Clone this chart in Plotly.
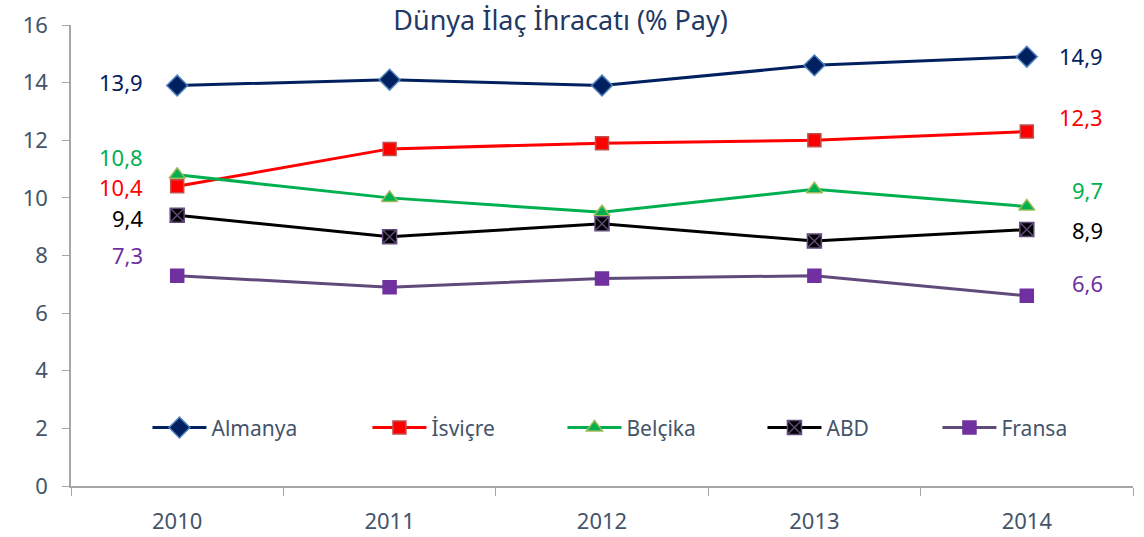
import plotly.graph_objects as go

years = ["2010", "2011", "2012", "2013", "2014"]
almanya = [13.9, 14.1, 13.9, 14.6, 14.9]
isvicre = [10.4, 11.7, 11.9, 12.0, 12.3]
belcika = [10.8, 10.0, 9.5, 10.3, 9.7]
abd = [9.4, 8.65, 9.1, 8.5, 8.9]
fransa = [7.3, 6.9, 7.2, 7.3, 6.6]

series = [
    ("Almanya", almanya, "#002060", "diamond", 16, "#002060", "#4F81BD", 151),
    ("İsviçre", isvicre, "#FF0000", "square", 13, "#FF0000", "#C0504D", 126),
    ("Belçika", belcika, "#00B050", "triangle-up", 14, "#00B050", "#9BBB59", 131),
    ("ABD", abd, "#000000", "square-x", 14, "#000000", "#604A7B", 106),
    ("Fransa", fransa, "#604A7B", "square", 13, "#7030A0", "#7030A0", 80),
]

# label offsets (pixels) for start / end value labels
left_shift = {"Almanya": 4, "İsviçre": -1, "Belçika": 18, "ABD": -3, "Fransa": 21}
right_shift = {"Almanya": 1, "İsviçre": 15, "Belçika": 17, "ABD": 0, "Fransa": 13}
label_color = {"Almanya": "#002060", "İsviçre": "#FF0000", "Belçika": "#00B050",
               "ABD": "#000000", "Fransa": "#7030A0"}

FONT = "Noto Sans"
fig = go.Figure()
for name, vals, lc, sym, sz, mc, mlc, lw in series:
    fig.add_trace(go.Scatter(
        x=years, y=vals, name=name, mode="lines+markers",
        line=dict(color=lc, width=3),
        marker=dict(symbol=sym, size=sz, color=mc, line=dict(color=mlc, width=1.5)),
        legendwidth=lw,
    ))

def fmt(v):
    return f"{v:.1f}".replace(".", ",")

n = len(years)
annotations = []
for name, vals, *_ in series:
    annotations.append(dict(
        x=0, y=vals[0], xref="x", yref="y", text=fmt(vals[0]),
        showarrow=False, xanchor="right", yanchor="middle",
        xshift=-32, yshift=left_shift[name],
        font=dict(family=FONT, size=22, color=label_color[name])))
    annotations.append(dict(
        x=n - 1, y=vals[-1], xref="x", yref="y", text=fmt(vals[-1]),
        showarrow=False, xanchor="right", yanchor="middle",
        xshift=78, yshift=right_shift[name],
        font=dict(family=FONT, size=22, color=label_color[name])))

fig.update_layout(
    width=1144, height=537,
    margin=dict(l=71, r=11, t=25, b=51),
    paper_bgcolor="white", plot_bgcolor="white",
    font=dict(family=FONT, color="#44546A"),
    title=dict(text="Dünya İlaç İhracatı (% Pay)", x=0.49, xanchor="center",
               y=0.962, yanchor="middle", yref="container",
               font=dict(family=FONT, size=27, color="#1F3864")),
    showlegend=True,
    legend=dict(orientation="h", x=0.072, xanchor="left", y=0.126, yanchor="middle",
                font=dict(family=FONT, size=21, color="#44546A"),
                itemwidth=54, entrywidthmode="pixels", bgcolor="rgba(0,0,0,0)"),
    annotations=annotations,
)
fig.update_xaxes(
    type="category", range=[-0.5, 4.5], showgrid=False, automargin=False,
    showline=True, linecolor="#A6A6A6", linewidth=1.5,
    ticks="outside", tickson="boundaries", ticklen=8, tickcolor="#A6A6A6",
    tickfont=dict(family=FONT, size=22, color="#44546A"), ticklabelstandoff=15,
)
fig.update_yaxes(
    range=[0, 16], dtick=2, showgrid=False, zeroline=False, automargin=False,
    showline=True, linecolor="#A6A6A6", linewidth=1.5,
    ticks="outside", ticklen=7, tickcolor="#A6A6A6",
    tickfont=dict(family=FONT, size=22, color="#44546A"), ticklabelstandoff=10,
)

fig.write_html("out.html", config={"displayModeBar": False},
               post_script="document.body.style.margin='0';")
